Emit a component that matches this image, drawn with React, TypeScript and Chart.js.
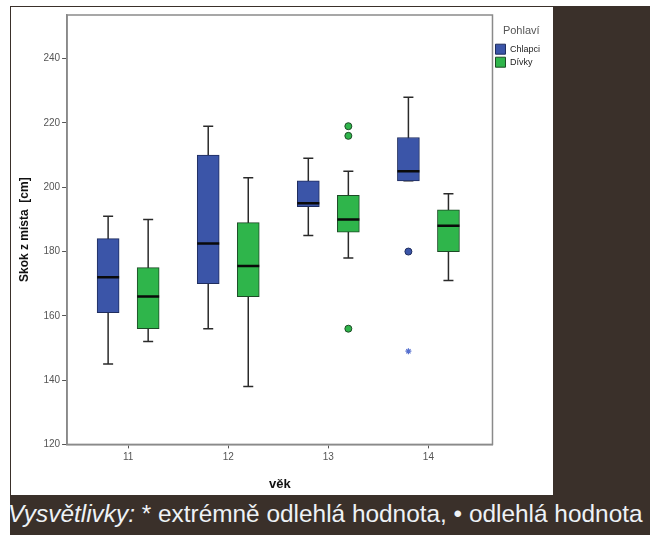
import React, { useEffect, useRef } from 'react';
import { Chart, registerables } from 'chart.js';
Chart.register(...registerables);

// ---- data ----
const ages = [11, 12, 13, 14];
const boysMin = [145, 156, 185, 202];
const boysQ1 = [161, 170, 194, 202];
const boysMedian = [172, 182.5, 195, 205];
const boysQ3 = [184, 210, 202, 215.5];
const boysMax = [191, 219, 209, 228];
const girlsMin = [152, 138, 178, 171];
const girlsQ1 = [156, 166, 186, 180];
const girlsMedian = [166, 175.5, 190, 188];
const girlsQ3 = [175, 189, 197.5, 193];
const girlsMax = [190, 203, 205, 198];
const boysOutlierAges = [14];
const boysOutlierValues = [180];
const boysExtremeAges = [14];
const boysExtremeValues = [149];
const girlsOutlierAges = [13, 13, 13];
const girlsOutlierValues = [219, 216, 156];
const yTicks = [120, 140, 160, 180, 200, 220, 240];

const BLUE = '#3b55a8';
const GREEN = '#2fb54b';
const GROUP_OFFSET = 0.2;
const CAP = 0.05;
const HALF_BOX = 0.11;

type P = { x: number; y: number | null };

function whiskers(off: number, mins: number[], maxs: number[]): P[] {
  const out: P[] = [];
  ages.forEach((a, i) => {
    const x = a + off;
    out.push({ x, y: mins[i] }, { x, y: maxs[i] }, { x, y: null });
    out.push({ x: x - CAP, y: maxs[i] }, { x: x + CAP, y: maxs[i] }, { x, y: null });
    out.push({ x: x - CAP, y: mins[i] }, { x: x + CAP, y: mins[i] }, { x, y: null });
  });
  return out;
}
function medians(off: number, med: number[]): P[] {
  const out: P[] = [];
  ages.forEach((a, i) => {
    const x = a + off;
    out.push({ x: x - HALF_BOX, y: med[i] }, { x: x + HALF_BOX, y: med[i] }, { x, y: null });
  });
  return out;
}

const framePlugin = {
  id: 'frame',
  beforeDatasetsDraw(chart: any) {
    const { ctx, chartArea } = chart;
    ctx.save();
    ctx.strokeStyle = '#8a8a8a';
    ctx.lineWidth = 1.5;
    ctx.strokeRect(chartArea.left, chartArea.top, chartArea.right - chartArea.left, chartArea.bottom - chartArea.top);
    ctx.restore();
  },
};

export default function App() {
  const ref = useRef<HTMLCanvasElement>(null);
  useEffect(() => {
    Chart.defaults.font.family = "'Liberation Sans', Arial, sans-serif";
    const chart = new Chart(ref.current!, {
      type: 'bar',
      data: {
        datasets: [
          {
            type: 'line',
            label: 'whiskers',
            data: [...whiskers(-GROUP_OFFSET, boysMin, boysMax), ...whiskers(GROUP_OFFSET, girlsMin, girlsMax)] as any,
            borderColor: '#2a2a2a',
            borderWidth: 1.5,
            pointRadius: 0,
            spanGaps: false,
            order: 3,
          },
          {
            type: 'bar',
            label: 'Chlapci',
            data: ages.map((a, i) => ({ x: a - GROUP_OFFSET, y: [boysQ1[i], boysQ3[i]] })) as any,
            backgroundColor: BLUE,
            borderColor: '#1f2d5e',
            borderWidth: 1,
            borderSkipped: false,
            barThickness: 22,
            grouped: false,
            order: 2,
          },
          {
            type: 'bar',
            label: 'Dívky',
            data: ages.map((a, i) => ({ x: a + GROUP_OFFSET, y: [girlsQ1[i], girlsQ3[i]] })) as any,
            backgroundColor: GREEN,
            borderColor: '#1d4a26',
            borderWidth: 1,
            borderSkipped: false,
            barThickness: 22,
            grouped: false,
            order: 2,
          },
          {
            type: 'line',
            label: 'medians',
            data: [...medians(-GROUP_OFFSET, boysMedian), ...medians(GROUP_OFFSET, girlsMedian)] as any,
            borderColor: '#0a0a0a',
            borderWidth: 2.5,
            pointRadius: 0,
            spanGaps: false,
            order: 1,
          },
          {
            type: 'line',
            label: 'boysOutliers',
            data: boysOutlierAges.map((a, i) => ({ x: a - GROUP_OFFSET, y: boysOutlierValues[i] })) as any,
            showLine: false,
            pointRadius: 3.5,
            pointBackgroundColor: BLUE,
            pointBorderColor: '#1f2d5e',
            pointBorderWidth: 1,
            order: 0,
          },
          {
            type: 'line',
            label: 'girlsOutliers',
            data: girlsOutlierAges.map((a, i) => ({ x: a + GROUP_OFFSET, y: girlsOutlierValues[i] })) as any,
            showLine: false,
            pointRadius: 3.5,
            pointBackgroundColor: GREEN,
            pointBorderColor: '#1d4a26',
            pointBorderWidth: 1,
            order: 0,
          },
          {
            type: 'line',
            label: 'boysExtremes',
            data: boysExtremeAges.map((a, i) => ({ x: a - GROUP_OFFSET, y: boysExtremeValues[i] })) as any,
            showLine: false,
            pointStyle: 'star',
            pointRadius: 3,
            pointBorderColor: '#5670cf',
            pointBackgroundColor: '#5670cf',
            pointBorderWidth: 1.2,
            order: 0,
          },
        ],
      },
      options: {
        responsive: false,
        animation: false,
        layout: { padding: { left: 6, top: 3, right: 3, bottom: 3 } },
        plugins: {
          tooltip: { enabled: false },
          legend: {
            position: 'right',
            align: 'start',
            title: {
              display: true,
              text: 'Pohlaví',
              color: '#555',
              font: { size: 11 },
              padding: { top: 15, bottom: 3 },
            },
            labels: {
              boxWidth: 10,
              boxHeight: 10,
              padding: 3,
              color: '#222',
              font: { size: 9 },
              filter: (item: any) => item.text === 'Chlapci' || item.text === 'Dívky',
            },
          },
        },
        scales: {
          x: {
            type: 'linear',
            min: 10.39,
            max: 14.64,
            offset: false,
            grid: { display: true, offset: false, drawOnChartArea: false, drawTicks: true, tickLength: 4, tickColor: '#555' },
            border: { display: true, color: '#8a8a8a', width: 1.5 },
            ticks: { stepSize: 1, includeBounds: false, color: '#555', font: { size: 10 }, padding: 3, callback: (v: any) => String(v) },
            title: { display: true, text: 'věk', color: '#111', font: { size: 13, weight: 'bold' }, padding: { top: 10, bottom: 0 } },
          },
          y: {
            type: 'linear',
            min: yTicks[0],
            max: 253.6,
            grid: { display: true, drawOnChartArea: false, drawTicks: true, tickLength: 5, tickColor: '#555' },
            border: { display: true, color: '#8a8a8a', width: 1.5 },
            ticks: { stepSize: 20, includeBounds: false, color: '#555', font: { size: 10 }, padding: 2 },
            title: { display: true, text: 'Skok z místa  [cm]', color: '#111', font: { size: 12, weight: 'bold' }, padding: { top: 0, bottom: 10 } },
          },
        },
      },
      plugins: [framePlugin],
    } as any);
    return () => chart.destroy();
  }, []);

  return (
    <div style={{ position: 'absolute', left: 0, top: 0, width: 650, height: 535, background: '#fff', overflow: 'hidden' }}>
      <div style={{ position: 'absolute', left: 10, top: 6, width: 640, height: 529, background: '#3a302a' }} />
      <div style={{ position: 'absolute', left: 11, top: 7, width: 542, height: 488, background: '#fff' }}>
        <canvas ref={ref} width={542} height={488} style={{ display: 'block', width: 542, height: 488 }} />
      </div>
      <div
        style={{
          position: 'absolute',
          left: 8,
          top: 502,
          height: 30,
          lineHeight: '24px',
          whiteSpace: 'nowrap',
          color: '#eef2f6',
          fontFamily: "'Liberation Sans', Arial, sans-serif",
          fontSize: 24.4,
        }}
      >
        <span style={{ fontStyle: 'italic' }}>Vysvětlivky:</span> * extrémně odlehlá hodnota, • odlehlá hodnota
      </div>
    </div>
  );
}
